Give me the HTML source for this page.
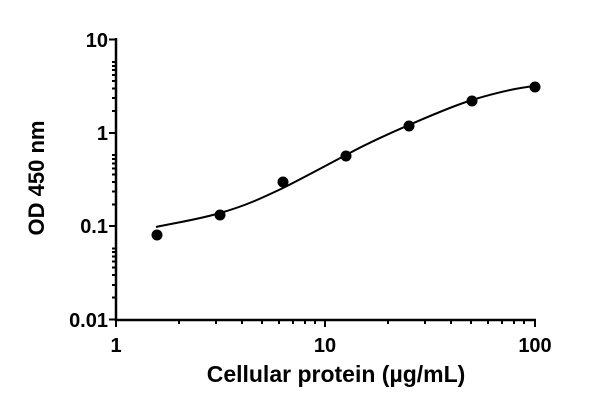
<!DOCTYPE html><html><head><style>body{margin:0;background:#fff}</style></head><body>
<svg width="600" height="405" xmlns="http://www.w3.org/2000/svg" font-family="Liberation Sans, sans-serif" font-weight="bold">
<g stroke="#000" stroke-width="2.5" fill="none">
<path d="M116,38V320H536"/>
</g>
<g stroke="#000" stroke-width="2">
<path d="M109,39.5H116M109,133H116M109,226H116M109,319.5H116"/>
<path d="M112,111H116M112,98H116M112,88.5H116M112,81H116M112,75H116M112,70H116M112,66H116M112,62H116
M112,204.5H116M112,191.5H116M112,182H116M112,174.5H116M112,168.5H116M112,163.5H116M112,159H116M112,155H116
M112,297.5H116M112,285H116M112,275H116M112,267.5H116M112,261.5H116M112,256.5H116M112,252H116M112,248.5H116"/>
<path d="M116,320V327M325,320V327M535,320V327"/>
<path d="M179,320V324M216,320V324M242,320V324M262,320V324M279,320V324M293,320V324M305,320V324M315,320V324
M388,320V324M425,320V324M451,320V324M471,320V324M488,320V324M502,320V324M514,320V324M524,320V324"/>
</g>
<path d="M156,227 C180,222 200,219 220,213 C245,206 262,198 283,188 C305,177 325,166 346,155 C368,143 388,134 409,125 C430,116 450,107 472,100 C495,93 515,88 535,86" stroke="#000" stroke-width="2" fill="none"/>
<g fill="#000">
<circle cx="157" cy="235" r="5.5"/><circle cx="220" cy="215" r="5.5"/><circle cx="283" cy="182" r="5.5"/>
<circle cx="346" cy="156" r="5.5"/><circle cx="409" cy="126" r="5.5"/><circle cx="472" cy="101" r="5.5"/><circle cx="535" cy="87" r="5.5"/>
</g>
<g font-size="20" text-anchor="end">
<text x="108" y="47">10</text><text x="108" y="140">1</text><text x="108" y="233">0.1</text><text x="108" y="327">0.01</text>
</g>
<g font-size="20" text-anchor="middle">
<text x="116" y="352">1</text><text x="325" y="352">10</text><text x="535" y="352">100</text>
</g>
<text x="336" y="382" font-size="23" text-anchor="middle">Cellular protein (µg/mL)</text>
<text transform="translate(44,178) rotate(-90)" font-size="22" text-anchor="middle">OD 450 nm</text>
</svg>
</body></html>
